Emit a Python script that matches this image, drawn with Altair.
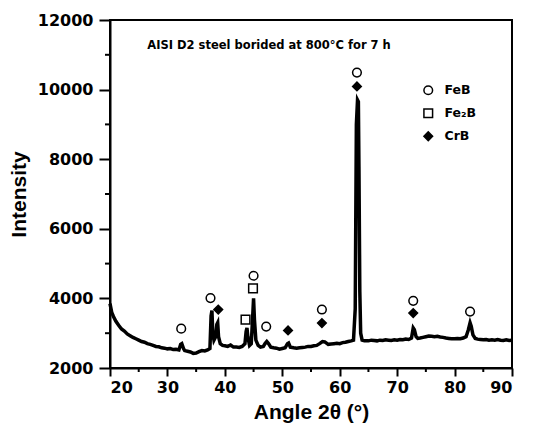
import altair as alt
import pandas as pd

# XRD pattern (2theta, intensity)
two_theta = [20.0, 20.3, 20.6, 21.0, 21.5, 22.0, 22.5, 23.0, 23.5, 24.0, 24.5, 25.0, 25.5, 26.0, 26.5,
             27.0, 27.5, 28.0, 28.5, 29.0, 29.5, 30.0, 30.5, 31.0, 31.5, 32.0, 32.3, 32.5, 32.8, 33.0,
             33.5, 34.0, 34.5, 35.0, 35.5, 36.0, 36.5, 37.0, 37.4, 37.6, 37.75, 37.9, 38.1, 38.4, 38.6,
             38.75, 38.9, 39.2, 39.6, 40.0, 40.5, 41.0, 41.5, 42.0, 42.5, 43.0, 43.5, 43.7, 43.85, 44.0,
             44.3, 44.6, 44.85, 45.0, 45.15, 45.4, 45.8, 46.2, 46.7, 47.0, 47.3, 47.6, 48.0, 48.5, 49.0,
             49.5, 50.0, 50.5, 50.9, 51.1, 51.4, 52.0, 52.5, 53.0, 53.5, 54.0, 54.5, 55.0, 55.5, 56.0,
             56.5, 57.0, 57.4, 58.0, 58.5, 59.0, 59.5, 60.0, 60.5, 61.0, 61.5, 62.0, 62.4, 62.7, 62.9,
             63.1, 63.25, 63.35, 63.5, 63.65, 63.9, 64.3, 65.0, 65.5, 66.0, 66.5, 67.0, 67.5, 68.0, 68.5,
             69.0, 69.5, 70.0, 70.5, 71.0, 71.5, 72.0, 72.5, 72.8, 73.0, 73.3, 73.6, 74.0, 74.5, 75.0,
             75.5, 76.0, 76.5, 77.0, 77.5, 78.0, 78.5, 79.0, 79.5, 80.0, 80.5, 81.0, 81.5, 82.0, 82.4,
             82.7, 82.9, 83.2, 83.6, 84.0, 84.5, 85.0, 85.5, 86.0, 86.5, 87.0, 87.5, 88.0, 88.5, 89.0,
             89.5, 90.0]
intensity = [3850, 3600, 3480, 3350, 3230, 3120, 3060, 2980, 2930, 2880, 2840, 2800, 2760, 2740, 2700,
             2680, 2650, 2620, 2610, 2580, 2570, 2550, 2560, 2530, 2540, 2520, 2680, 2700, 2560, 2500,
             2480, 2460, 2420, 2430, 2470, 2500, 2490, 2520, 2560, 3500, 3650, 3000, 2800, 2900, 3250,
             3300, 2900, 2700, 2650, 2640, 2620, 2660, 2600, 2600, 2590, 2620, 2700, 3050, 3150, 2900,
             2650, 2700, 3500, 4000, 3400, 2800, 2650, 2600, 2620, 2700, 2760, 2700, 2600, 2580, 2570,
             2540, 2560, 2580, 2700, 2720, 2600, 2580, 2570, 2580, 2590, 2600, 2620, 2620, 2640, 2650,
             2700, 2760, 2750, 2680, 2690, 2700, 2710, 2700, 2730, 2740, 2760, 2780, 2800, 3700, 9000,
             9700, 9650, 7800, 4200, 3000, 2800, 2780, 2780, 2800, 2790, 2780, 2800, 2790, 2810, 2800,
             2790, 2810, 2800, 2820, 2810, 2830, 2820, 2860, 3150, 3100, 2900, 2850, 2860, 2880, 2900,
             2920, 2910, 2900, 2910, 2890, 2880, 2860, 2850, 2840, 2840, 2850, 2840, 2860, 2900, 3100,
             3300, 3200, 2950, 2850, 2830, 2820, 2810, 2820, 2800, 2810, 2800, 2820, 2800, 2790, 2810,
             2790, 2800]

# Phase identification markers
phase = ["FeB", "FeB", "FeB", "FeB", "FeB", "FeB", "FeB", "FeB",
         "Fe₂B", "Fe₂B",
         "CrB", "CrB", "CrB", "CrB", "CrB"]
mark_x = [32.4, 37.5, 45.0, 47.2, 56.9, 63.0, 72.8, 82.7,
          43.6, 44.9,
          38.85, 51.0, 56.9, 63.0, 72.8]
mark_y = [3130, 4010, 4650, 3190, 3680, 10490, 3930, 3620,
          3390, 4290,
          3680, 3080, 3290, 10090, 3580]

phases = ["FeB", "Fe₂B", "CrB"]
shapes = ["circle", "square", "diamond"]
fills = ["white", "white", "black"]
strokes = ["black", "black", "black"]

note_text = ["AISI D2 steel borided at 800°C for 7 h"]
note_x = [26.5]
note_y = [11250]

x_major = [20, 30, 40, 50, 60, 70, 80, 90]
x_minor = [25, 35, 45, 55, 65, 75, 85]
y_major = [2000, 4000, 6000, 8000, 10000, 12000]
y_minor = [3000, 5000, 7000, 9000, 11000]

FONT = "Liberation Sans"
WIDE = "DejaVu Sans"
W, H = 402, 348

spec_df = pd.DataFrame({"x": two_theta, "y": intensity})
mk_df = pd.DataFrame({"phase": phase, "x": mark_x, "y": mark_y})
note_df = pd.DataFrame({"t": note_text, "x": note_x, "y": note_y})

xscale = alt.Scale(domain=[20, 90], nice=False, zero=False)
yscale = alt.Scale(domain=[2000, 12000], nice=False, zero=False)

x_axis = alt.Axis(
    title="Angle 2θ (°)", values=x_major, format="d", orient="bottom",
    ticks=True, tickSize=8, tickColor="black", tickWidth=2,
    grid=False, domainColor="black", domainWidth=2,
    labelFont=WIDE, labelFontSize=16, labelFontWeight="bold", labelColor="black", labelPadding=3,
    titleFont=FONT, titleFontSize=21, titleFontWeight="bold", titleColor="black", titlePadding=6,
)
y_axis = alt.Axis(
    title="Intensity", values=y_major, format="d", orient="left",
    ticks=True, tickSize=11, tickColor="black", tickWidth=2,
    grid=False, domainColor="black", domainWidth=2,
    labelFont=WIDE, labelFontSize=16, labelFontWeight="bold", labelColor="black", labelPadding=6,
    titleFont=FONT, titleFontSize=21, titleFontWeight="bold", titleColor="black", titlePadding=8,
)

line = alt.Chart(spec_df).mark_line(color="black", strokeWidth=3.5, strokeJoin="miter").encode(
    x=alt.X("x:Q", scale=xscale, axis=x_axis),
    y=alt.Y("y:Q", scale=yscale, axis=y_axis),
)

# minor tick marks, placed through the scales
xt_minor = alt.Chart(pd.DataFrame({"v": x_minor})).mark_rule(color="black", strokeWidth=2).encode(
    x=alt.X("v:Q", scale=xscale), y=alt.value(H), y2=alt.value(H + 4))
yt_minor = alt.Chart(pd.DataFrame({"v": y_minor})).mark_rule(color="black", strokeWidth=2).encode(
    y=alt.Y("v:Q", scale=yscale), x=alt.value(0), x2=alt.value(-5))

points = alt.Chart(mk_df).mark_point(size=75, strokeWidth=1.5, opacity=1, filled=False).encode(
    x=alt.X("x:Q", scale=xscale),
    y=alt.Y("y:Q", scale=yscale),
    shape=alt.Shape("phase:N", scale=alt.Scale(domain=phases, range=shapes),
                    legend=alt.Legend(title=None, orient="none", legendX=312, legendY=64,
                                      labelFont=WIDE, labelFontSize=12.5, labelFontWeight="bold",
                                      labelColor="black", symbolSize=75, symbolStrokeWidth=1.5,
                                      rowPadding=7, labelOffset=10)),
    fill=alt.Fill("phase:N", scale=alt.Scale(domain=phases, range=fills), legend=None),
    stroke=alt.Stroke("phase:N", scale=alt.Scale(domain=phases, range=strokes), legend=None),
)

note = alt.Chart(note_df).mark_text(
    align="left", baseline="middle", font=WIDE, fontSize=11.5, fontWeight="bold", color="black"
).encode(
    x=alt.X("x:Q", scale=xscale),
    y=alt.Y("y:Q", scale=yscale),
    text="t:N",
)

chart = alt.layer(line, xt_minor, yt_minor, points, note).properties(
    width=W, height=H,
    autosize=alt.AutoSizeParams(type="none"),
    padding={"left": 102, "top": 12, "right": 20, "bottom": 60},
    background="white",
).configure_view(stroke="black", strokeWidth=2)

chart.save("out.html", embed_options={"renderer": "svg", "actions": False})
